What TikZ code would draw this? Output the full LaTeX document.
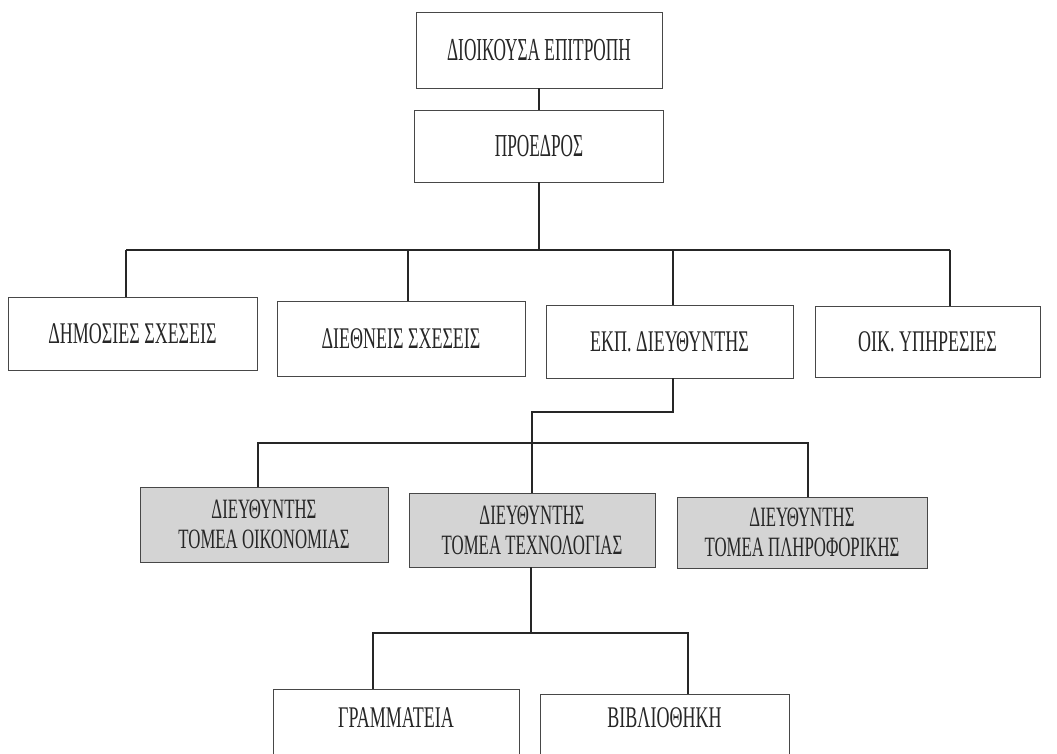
\documentclass[tikz,border=0pt]{standalone}
\usepackage{fontspec}
\setmainfont{Liberation Serif}[FakeStretch=0.6]
\newfontfamily\topfont{Liberation Serif}[FakeStretch=0.54]
\begin{document}
\begin{tikzpicture}[x=1pt,y=-1pt,
  box/.style={draw=black!72, line width=0.9pt, fill=white, inner sep=0pt, align=center, text=black!85},
  gbox/.style={box, fill=black!17},
  conn/.style={draw=black!85, line width=1.1pt},
  ftop/.style={font=\topfont\fontsize{32}{34}\selectfont},
  frow/.style={font=\fontsize{30}{32}\selectfont},
  fsub/.style={font=\fontsize{28}{30}\selectfont}]
\clip (0,0) rectangle (1057,753);
\fill[white] (0,0) rectangle (1057,753);
% level 0-1
\node[box, ftop, minimum width=246pt, minimum height=76pt] (top) at (539,50) {ΔΙΟΙΚΟΥΣΑ ΕΠΙΤΡΟΠΗ};
\node[box, ftop, minimum width=249pt, minimum height=72pt] (pres) at (539,146) {ΠΡΟΕΔΡΟΣ};
% level 2
\node[box, frow, minimum width=249pt, minimum height=73pt] (a) at (132.5,333.5) {ΔΗΜΟΣΙΕΣ ΣΧΕΣΕΙΣ};
\node[box, frow, minimum width=248pt, minimum height=75pt] (b) at (401,338.5) {ΔΙΕΘΝΕΙΣ ΣΧΕΣΕΙΣ};
\node[box, frow, minimum width=247pt, minimum height=73pt] (c) at (669.5,341.5) {ΕΚΠ. ΔΙΕΥΘΥΝΤΗΣ};
\node[box, frow, minimum width=225pt, minimum height=71pt] (d) at (927.5,341.5) {ΟΙΚ. ΥΠΗΡΕΣΙΕΣ};
% level 3
\node[gbox, fsub, minimum width=248pt, minimum height=75pt] (e) at (264,524.5) {ΔΙΕΥΘΥΝΤΗΣ\\ΤΟΜΕΑ ΟΙΚΟΝΟΜΙΑΣ};
\node[gbox, fsub, minimum width=246pt, minimum height=74pt] (f) at (532,530) {ΔΙΕΥΘΥΝΤΗΣ\\ΤΟΜΕΑ ΤΕΧΝΟΛΟΓΙΑΣ};
\node[gbox, fsub, minimum width=250pt, minimum height=71pt] (g) at (802,532.5) {ΔΙΕΥΘΥΝΤΗΣ\\ΤΟΜΕΑ ΠΛΗΡΟΦΟΡΙΚΗΣ};
% level 4
\node[box, frow, minimum width=246pt, minimum height=72pt] (h) at (396,725) {\raisebox{7pt}[\height][\depth]{ΓΡΑΜΜΑΤΕΙΑ}};
\node[box, frow, minimum width=249pt, minimum height=68pt] (i) at (664.5,728) {\raisebox{10pt}[\height][\depth]{ΒΙΒΛΙΟΘΗΚΗ}};
% connectors
\draw[conn] (top.south) -- (pres.north);
\coordinate (bus1) at (539,250);
\coordinate (da) at (126,250);
\coordinate (db) at (408,250);
\coordinate (dc) at (673,250);
\coordinate (dd) at (950,250);
\draw[conn] (pres.south) -- (bus1);
\draw[conn] (da) -- (dd);
\draw[conn] (da) -- (da |- a.north);
\draw[conn] (db) -- (db |- b.north);
\draw[conn] (dc) -- (dc |- c.north);
\draw[conn] (dd) -- (dd |- d.north);
\coordinate (k1) at (673,412);
\coordinate (k2) at (532,412);
\coordinate (de) at (258,443);
\coordinate (dg) at (808,443);
\draw[conn] (k1 |- c.south) -- (k1) -- (k2) -- (k2 |- f.north);
\draw[conn] (de |- e.north) -- (de) -- (dg) -- (dg |- g.north);
\coordinate (m) at (531,633);
\coordinate (dh) at (373,633);
\coordinate (di) at (688,633);
\draw[conn] (m |- f.south) -- (m);
\draw[conn] (dh |- h.north) -- (dh) -- (di) -- (di |- i.north);
\end{tikzpicture}
\end{document}
